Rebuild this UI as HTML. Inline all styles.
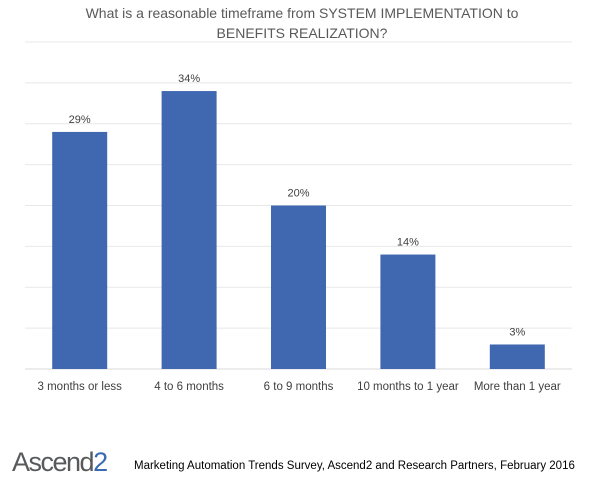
<!DOCTYPE html>
<html><head><meta charset="utf-8"><style>
body{margin:0;background:#fff;width:607px;height:480px;overflow:hidden;font-family:"Liberation Sans",sans-serif}
</style></head><body>
<svg width="607" height="480">
<text x="302" y="18" text-anchor="middle" font-size="14" fill="#595959">What is a reasonable timeframe from SYSTEM IMPLEMENTATION to</text>
<text x="302" y="38" text-anchor="middle" font-size="14" fill="#595959">BENEFITS REALIZATION?</text>
<g id="grid"></g><g id="bars"></g>
<text x="12" y="471" font-size="27" fill="#58595b" letter-spacing="-1.5">Ascend<tspan fill="#3a6bb0">2</tspan></text>
<text x="134" y="469" font-size="11.5" fill="#000">Marketing Automation Trends Survey, Ascend2 and Research Partners, February 2016</text>
</svg>
<script>
const categories=["3 months or less","4 to 6 months","6 to 9 months","10 months to 1 year","More than 1 year"];
const values=[29,34,20,14,3];
const gridTicks=[0,5,10,15,20,25,30,35,40];
const NS="http://www.w3.org/2000/svg";
const L=25,R=572,B=369,T=42,MAX=40;
const y=v=>B-(v/MAX)*(B-T);
const step=(R-L)/categories.length;
const xc=i=>L+step*(i+0.5);
const g=document.getElementById('grid'),b=document.getElementById('bars');
function mk(t,a,p){const e=document.createElementNS(NS,t);for(const k in a)e.setAttribute(k,a[k]);p.appendChild(e);return e;}
gridTicks.forEach(t=>{const e=mk('line',{x1:L,x2:R,y1:y(t),y2:y(t),stroke:t===0?'#d9d9d9':'#e8e8e8','stroke-width':1},g);

});
const bw=55;
categories.forEach((c,i)=>{
const r=mk('rect',{x:xc(i)-bw/2,y:y(values[i]),width:bw,height:B-y(values[i]),fill:'#4068b0'},b);


const lt=mk('text',{x:xc(i),y:y(values[i])-9,'text-anchor':'middle','font-size':11,fill:'#404040'},b);
lt.textContent=values[i]+'%';


const ct=mk('text',{x:xc(i),y:390,'text-anchor':'middle','font-size':11.5,fill:'#404040'},b);
ct.textContent=c;


});
</script>
</body></html>
